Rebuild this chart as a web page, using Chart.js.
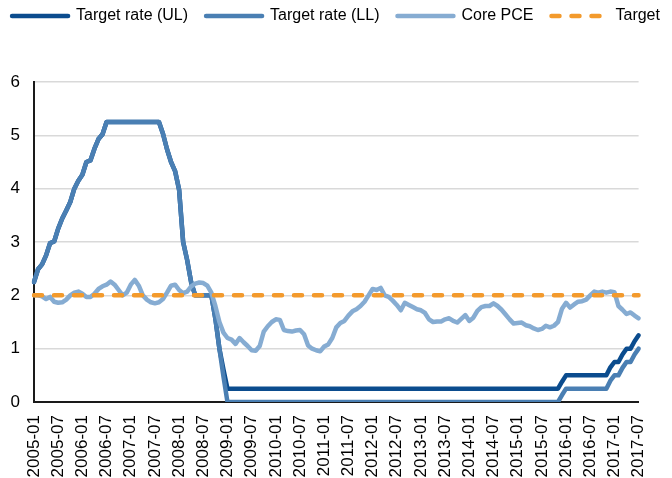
<!DOCTYPE html>
<html>
<head>
<meta charset="utf-8">
<script src="https://cdn.jsdelivr.net/npm/chart.js@4"></script>
<style>
  html, body { margin: 0; padding: 0; background: #fff; }
  #wrap { width: 672px; height: 478px; position: relative; }
</style>
</head>
<body>
<div id="wrap"><canvas id="chart"></canvas></div>
<script>
// monthly categories 2005-01 .. 2017-07
const months = [];
for (let y = 2005; y <= 2017; y++) {
  for (let m = 1; m <= 12; m++) {
    if (y === 2017 && m > 7) break;
    months.push(y + "-" + String(m).padStart(2, "0"));
  }
}

// fed funds target, monthly averages (upper limit)
const targetUL = [
  2.25, 2.49, 2.58, 2.75, 2.98, 3.01, 3.25, 3.44, 3.59, 3.75, 4.00, 4.15,
  4.26, 4.50, 4.53, 4.75, 4.93, 5.02, 5.25, 5.25, 5.25, 5.25, 5.25, 5.25,
  5.25, 5.25, 5.25, 5.25, 5.25, 5.25, 5.25, 5.25, 5.03, 4.74, 4.50, 4.33,
  3.98, 3.00, 2.66, 2.24, 2.00, 2.00, 2.00, 2.00, 2.00, 1.56, 1.00, 0.61,
  0.25, 0.25, 0.25, 0.25, 0.25, 0.25, 0.25, 0.25, 0.25, 0.25, 0.25, 0.25,
  0.25, 0.25, 0.25, 0.25, 0.25, 0.25, 0.25, 0.25, 0.25, 0.25, 0.25, 0.25,
  0.25, 0.25, 0.25, 0.25, 0.25, 0.25, 0.25, 0.25, 0.25, 0.25, 0.25, 0.25,
  0.25, 0.25, 0.25, 0.25, 0.25, 0.25, 0.25, 0.25, 0.25, 0.25, 0.25, 0.25,
  0.25, 0.25, 0.25, 0.25, 0.25, 0.25, 0.25, 0.25, 0.25, 0.25, 0.25, 0.25,
  0.25, 0.25, 0.25, 0.25, 0.25, 0.25, 0.25, 0.25, 0.25, 0.25, 0.25, 0.25,
  0.25, 0.25, 0.25, 0.25, 0.25, 0.25, 0.25, 0.25, 0.25, 0.25, 0.25, 0.38,
  0.50, 0.50, 0.50, 0.50, 0.50, 0.50, 0.50, 0.50, 0.50, 0.50, 0.50, 0.65,
  0.75, 0.75, 0.89, 1.00, 1.00, 1.14, 1.25
];

// lower limit
const targetLL = [
  2.25, 2.49, 2.58, 2.75, 2.98, 3.01, 3.25, 3.44, 3.59, 3.75, 4.00, 4.15,
  4.26, 4.50, 4.53, 4.75, 4.93, 5.02, 5.25, 5.25, 5.25, 5.25, 5.25, 5.25,
  5.25, 5.25, 5.25, 5.25, 5.25, 5.25, 5.25, 5.25, 5.03, 4.74, 4.50, 4.33,
  3.98, 3.00, 2.66, 2.24, 2.00, 2.00, 2.00, 2.00, 2.00, 1.56, 1.00, 0.48,
  0, 0, 0, 0, 0, 0, 0, 0, 0, 0, 0, 0,
  0, 0, 0, 0, 0, 0, 0, 0, 0, 0, 0, 0,
  0, 0, 0, 0, 0, 0, 0, 0, 0, 0, 0, 0,
  0, 0, 0, 0, 0, 0, 0, 0, 0, 0, 0, 0,
  0, 0, 0, 0, 0, 0, 0, 0, 0, 0, 0, 0,
  0, 0, 0, 0, 0, 0, 0, 0, 0, 0, 0, 0,
  0, 0, 0, 0, 0, 0, 0, 0, 0, 0, 0, 0.13,
  0.25, 0.25, 0.25, 0.25, 0.25, 0.25, 0.25, 0.25, 0.25, 0.25, 0.25, 0.40,
  0.50, 0.50, 0.64, 0.75, 0.75, 0.89, 1.00
];

// core PCE, y/y %
const corePCE = [
  2.00, 2.00, 1.98, 1.93, 1.97, 1.88, 1.86, 1.87, 1.92, 2.00, 2.05, 2.07,
  2.03, 1.97, 1.97, 2.03, 2.12, 2.17, 2.20, 2.26, 2.20, 2.10, 2.00, 2.05,
  2.20, 2.29, 2.18, 2.00, 1.92, 1.87, 1.85, 1.87, 1.93, 2.05, 2.18, 2.20,
  2.10, 2.04, 2.07, 2.17, 2.22, 2.24, 2.23, 2.18, 2.05, 1.80, 1.50, 1.30,
  1.20, 1.17, 1.09, 1.20, 1.12, 1.05, 0.97, 0.96, 1.05, 1.32, 1.42, 1.50,
  1.55, 1.54, 1.35, 1.33, 1.32, 1.34, 1.35, 1.27, 1.06, 1.00, 0.97, 0.95,
  1.04, 1.08, 1.20, 1.40, 1.48, 1.52, 1.62, 1.70, 1.74, 1.80, 1.88, 2.00,
  2.12, 2.10, 2.14, 2.00, 1.97, 1.90, 1.82, 1.72, 1.86, 1.82, 1.78, 1.74,
  1.72, 1.67, 1.55, 1.50, 1.51, 1.51, 1.55, 1.57, 1.52, 1.49, 1.56, 1.63,
  1.52, 1.58, 1.71, 1.78, 1.80, 1.80, 1.85, 1.80, 1.73, 1.64, 1.55, 1.47,
  1.48, 1.49, 1.44, 1.42, 1.38, 1.35, 1.37, 1.43, 1.40, 1.43, 1.50, 1.75,
  1.86, 1.77, 1.83, 1.88, 1.89, 1.92, 2.00, 2.07, 2.05, 2.07, 2.05, 2.07,
  2.06, 1.80, 1.73, 1.65, 1.68, 1.62, 1.57
];

// 2% inflation target, flat over the whole period
const inflationTarget = 2;
const yTicks = [0, 1, 2, 3, 4, 5, 6];

const FONT = "'Liberation Sans', Arial, sans-serif";

// legend sits in one row across the full width, with a gap under it
const legendRoom = {
  id: "legendRoom",
  beforeInit(chart) {
    const lg = chart.legend;
    const fit = lg.fit;
    const draw = lg.draw;
    lg.fit = function () {
      const mw = this.maxWidth;
      this.maxWidth = mw + 80;
      fit.call(this);
      this.maxWidth = mw;
      this.width = mw;
      this.height = 82;
    };
    lg.draw = function () {
      this.left -= 40; this.right += 40; this.top -= 10;
      draw.call(this);
      this.left += 40; this.right -= 40; this.top += 10;
    };
  }
};

const ctx = document.getElementById("chart").getContext("2d");
new Chart(ctx, {
  type: "line",
  data: {
    labels: months,
    datasets: [
      {
        label: "Target rate (UL)",
        data: targetUL,
        borderColor: "#0b4c8e",
        backgroundColor: "#0b4c8e",
        borderWidth: 4.5,
        order: 4
      },
      {
        label: "Target rate (LL)",
        data: targetLL,
        borderColor: "#4a7fb3",
        backgroundColor: "#4a7fb3",
        borderWidth: 4.5,
        order: 3
      },
      {
        label: "Core PCE",
        data: corePCE,
        borderColor: "#86acd2",
        backgroundColor: "#86acd2",
        borderWidth: 4.5,
        order: 2
      },
      {
        label: "Target",
        data: [
          { x: months[0], y: inflationTarget },
          { x: months[months.length - 1], y: inflationTarget }
        ],
        borderColor: "#f39a2c",
        backgroundColor: "#f39a2c",
        borderWidth: 4.5,
        borderDash: [8, 12],
        order: 1
      }
    ]
  },
  options: {
    responsive: true,
    maintainAspectRatio: false,
    animation: false,
    layout: { padding: 0 },
    elements: {
      point: { radius: 0, hoverRadius: 0 },
      line: { tension: 0, borderCapStyle: "round", borderJoinStyle: "round", fill: false }
    },
    plugins: {
      tooltip: { enabled: false },
      legend: {
        position: "top",
        labels: {
          usePointStyle: true,
          pointStyle: "line",
          pointStyleWidth: 56,
          padding: 18,
          color: "#000",
          font: { family: FONT, size: 16 },
          sort: (a, b) => a.datasetIndex - b.datasetIndex,
          generateLabels: (chart) => {
            const items = Chart.defaults.plugins.legend.labels.generateLabels(chart);
            items.forEach((it) => {
              const ds = chart.data.datasets[it.datasetIndex];
              it.strokeStyle = ds.borderColor;
              it.lineWidth = ds.borderWidth;
              it.lineDash = ds.borderDash || [];
              it.lineCap = "round";
            });
            return items;
          }
        }
      }
    },
    scales: {
      x: {
        type: "category",
        offset: false,
        afterFit: (scale) => { scale.height = 76; },
        grid: { display: false, drawTicks: false },
        border: { display: true, color: "#1a1a1a", width: 2 },
        ticks: {
          autoSkip: false,
          maxRotation: 90,
          minRotation: 90,
          padding: 13,
          color: "#000",
          font: { family: FONT, size: 17 },
          callback: (v, i) => (i % 6 === 0 ? months[i] : null)
        }
      },
      y: {
        min: 0,
        max: 6,
        afterFit: (scale) => { scale.width = 34; },
        afterBuildTicks: (scale) => { scale.ticks = yTicks.map((v) => ({ value: v })); },
        grid: { color: "#d9d9d9", lineWidth: 1.5, drawTicks: false },
        border: { display: true, color: "#1a1a1a", width: 2 },
        ticks: {
          padding: 14,
          color: "#000",
          font: { family: FONT, size: 17 }
        }
      },
      // empty right axis, only keeps the white margin on the right
      yRight: {
        position: "right",
        afterFit: (scale) => { scale.width = 22; },
        grid: { display: false, drawTicks: false },
        border: { display: false },
        ticks: { display: false }
      }
    }
  },
  plugins: [legendRoom]
});
</script>
</body>
</html>
